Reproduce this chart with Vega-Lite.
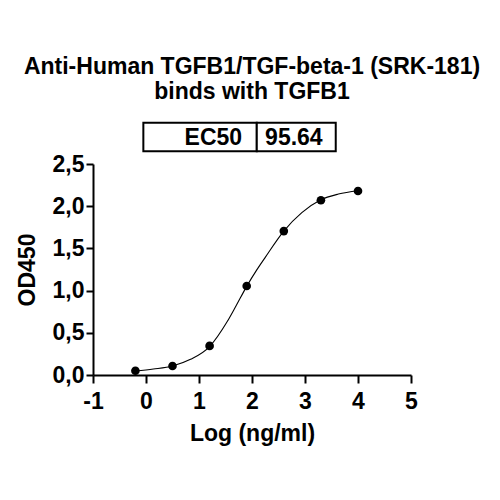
{
  "$schema": "https://vega.github.io/schema/vega-lite/v6.json",
  "width": 318,
  "height": 211,
  "autosize": {"type": "none"},
  "padding": {"left": 93, "top": 164, "right": 89, "bottom": 125},
  "background": "white",
  "title": {
    "text": ["Anti-Human TGFB1/TGF-beta-1 (SRK-181)", "binds with TGFB1"],
    "anchor": "middle",
    "offset": 18,
    "font": "Liberation Sans",
    "fontSize": 23,
    "fontWeight": "bold",
    "color": "black",
    "lineHeight": 25
  },
  "datasets": {
    "points": [
      {"logc": -0.2, "od": 0.05},
      {"logc": 0.5, "od": 0.107},
      {"logc": 1.2, "od": 0.345},
      {"logc": 1.9, "od": 1.055},
      {"logc": 2.6, "od": 1.705},
      {"logc": 3.3, "od": 2.07},
      {"logc": 4.0, "od": 2.18}
    ],
    "curve": [
      {"logc": -0.2, "od": 0.047},
      {"logc": 0.14, "od": 0.071},
      {"logc": 0.5, "od": 0.107},
      {"logc": 0.84, "od": 0.186},
      {"logc": 1.2, "od": 0.337},
      {"logc": 1.53, "od": 0.63},
      {"logc": 1.7, "od": 0.82},
      {"logc": 1.9, "od": 1.05},
      {"logc": 2.09, "od": 1.245},
      {"logc": 2.25, "od": 1.394},
      {"logc": 2.6, "od": 1.705},
      {"logc": 2.94, "od": 1.923},
      {"logc": 3.29, "od": 2.073},
      {"logc": 3.63, "od": 2.144},
      {"logc": 4.0, "od": 2.184}
    ],
    "table": [
      {"cell": "EC50", "x0": -0.05, "x1": 2.09, "tx": 1.27},
      {"cell": "95.64", "x0": 2.09, "x1": 3.58, "tx": 2.79}
    ]
  },
  "layer": [
    {
      "data": {"name": "curve"},
      "mark": {"type": "line", "color": "black", "strokeWidth": 1.1, "interpolate": "monotone"},
      "encoding": {
        "x": {
          "field": "logc",
          "type": "quantitative",
          "scale": {"domain": [-1, 5], "nice": false, "zero": false},
          "axis": {
            "title": "Log (ng/ml)",
            "values": [-1, 0, 1, 2, 3, 4, 5],
            "labelExpr": "datum.value < 0 ? '-' + abs(datum.value) : '' + datum.value",
            "tickSize": 8,
            "labelPadding": 7,
            "titlePadding": 9
          }
        },
        "y": {
          "field": "od",
          "type": "quantitative",
          "scale": {"domain": [0, 2.5], "nice": false},
          "axis": {
            "title": "OD450",
            "values": [0, 0.5, 1, 1.5, 2, 2.5],
            "labelExpr": "replace(format(datum.value, '.1f'), '.', ',')",
            "tickSize": 7,
            "labelPadding": 2,
            "titlePadding": 13
          }
        }
      }
    },
    {
      "data": {"name": "points"},
      "mark": {"type": "circle", "color": "black", "opacity": 1, "size": 75},
      "encoding": {
        "x": {"field": "logc", "type": "quantitative"},
        "y": {"field": "od", "type": "quantitative"}
      }
    },
    {
      "data": {"name": "table"},
      "mark": {"type": "rect", "fill": "white", "stroke": "black", "strokeWidth": 2, "clip": false},
      "encoding": {
        "x": {"field": "x0", "type": "quantitative"},
        "x2": {"field": "x1"},
        "y": {"datum": 2.65},
        "y2": {"datum": 2.99}
      }
    },
    {
      "data": {"name": "table"},
      "mark": {
        "type": "text",
        "font": "Liberation Sans",
        "fontSize": 23,
        "fontWeight": "bold",
        "color": "black",
        "align": "center",
        "baseline": "alphabetic",
        "clip": false
      },
      "encoding": {
        "x": {"field": "tx", "type": "quantitative"},
        "y": {"datum": 2.722},
        "text": {"field": "cell"}
      }
    }
  ],
  "config": {
    "view": {"stroke": null},
    "axis": {
      "grid": false,
      "domainColor": "black",
      "domainWidth": 2,
      "tickColor": "black",
      "tickWidth": 2,
      "labelFont": "Liberation Sans",
      "labelFontSize": 23,
      "labelFontWeight": "bold",
      "labelColor": "black",
      "titleFont": "Liberation Sans",
      "titleFontSize": 23,
      "titleFontWeight": "bold",
      "titleColor": "black",
      "labelFlush": false,
      "labelOverlap": false
    }
  }
}
